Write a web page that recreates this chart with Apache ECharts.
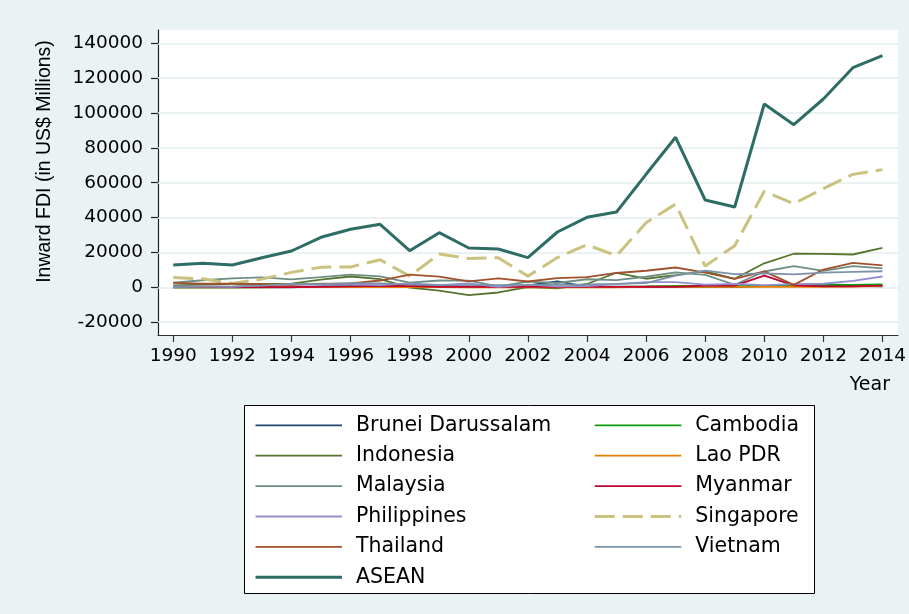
<!DOCTYPE html>
<html>
<head>
<meta charset="utf-8">
<title>Inward FDI, ASEAN 1990-2014</title>
<script src="https://cdn.jsdelivr.net/npm/echarts@6/dist/echarts.min.js"></script>
<style>
  html, body { margin: 0; padding: 0; background: #eaf2f3; }
  #chart { width: 909px; height: 614px; }
</style>
</head>
<body>
<div id="chart"></div>
<script>
// Inward FDI flows, US$ millions
const years = [1990, 1991, 1992, 1993, 1994, 1995, 1996, 1997, 1998, 1999, 2000, 2001, 2002,
               2003, 2004, 2005, 2006, 2007, 2008, 2009, 2010, 2011, 2012, 2013, 2014];
const brunei      = [3, 1, 4, 14, 6, 583, 654, 702, 573, 748, 550, 526, 1035, 3375, 334, 175, 88, 257, 222, 326, 625, 1208, 865, 776, 568];
const cambodia    = [0, 0, 33, 54, 69, 151, 294, 168, 243, 232, 149, 149, 145, 84, 131, 381, 483, 867, 815, 539, 783, 892, 1557, 1345, 1730];
const indonesia   = [1093, 1482, 1777, 2004, 2109, 4346, 6194, 4678, -241, -1866, -4550, -2978, 145, -597, 1896, 8336, 4914, 6928, 9318, 4877, 13771, 19241, 19138, 18817, 22580];
const lao         = [6, 8, 9, 30, 59, 95, 160, 86, 45, 52, 34, 24, 5, 19, 17, 28, 187, 324, 228, 190, 279, 301, 294, 427, 721];
const malaysia    = [2611, 4043, 5138, 5741, 4581, 5816, 7296, 6323, 2714, 3895, 3788, 554, 3203, 2473, 4624, 4065, 6060, 8595, 7172, 1453, 9060, 12198, 9400, 12115, 10875];
const myanmar     = [225, 238, 172, 149, 91, 318, 581, 879, 684, 304, 208, 192, 191, 291, 251, 236, 428, 258, 976, 963, 6669, 1118, 497, 584, 946];
const philippines = [530, 544, 228, 1238, 1591, 1478, 1517, 1222, 2287, 1247, 2240, 195, 1542, 491, 688, 1854, 2921, 2916, 1544, 1963, 1298, 1852, 2033, 3664, 6201];
const singapore   = [5575, 4887, 2204, 4686, 8550, 11535, 11650, 15800, 6389, 19060, 16484, 17000, 6402, 17051, 24390, 18090, 37000, 47733, 12200, 23821, 55076, 48002, 56659, 64793, 67523];
const thailand    = [2575, 2049, 2151, 1807, 1366, 2068, 2271, 3894, 7315, 6103, 3366, 5067, 3335, 5235, 5862, 8216, 9501, 11359, 8455, 4854, 9147, 1370, 10200, 14000, 12600];
const vietnam     = [180, 375, 474, 926, 1944, 1780, 2395, 2220, 1671, 1412, 1298, 1300, 1200, 1450, 1610, 1954, 2400, 6700, 9579, 7600, 8000, 7430, 8368, 8900, 9200];
const asean       = [12800, 13770, 12800, 17000, 20830, 28690, 33280, 36150, 21000, 31330, 22550, 21980, 17000, 31730, 40160, 43200, 64830, 86060, 50090, 46070, 105170, 93290, 108040, 126000, 132900];

const xTicks = [1990, 1992, 1994, 1996, 1998, 2000, 2002, 2004, 2006, 2008, 2010, 2012, 2014];
const yTicks = [-20000, 0, 20000, 40000, 60000, 80000, 100000, 120000, 140000];

const FONT = '"DejaVu Sans", Verdana, sans-serif';
const TITLE_FONT = '"Liberation Sans", Arial, Helvetica, sans-serif';

const seriesDefs = [
  { name: 'Brunei Darussalam', data: brunei,      color: '#1a476f', width: 1.8 },
  { name: 'Cambodia',          data: cambodia,    color: '#0d9a0d', width: 1.8 },
  { name: 'Indonesia',         data: indonesia,   color: '#55752f', width: 1.8 },
  { name: 'Lao PDR',           data: lao,         color: '#e37e00', width: 1.8 },
  { name: 'Malaysia',          data: malaysia,    color: '#6e8e84', width: 1.8 },
  { name: 'Myanmar',           data: myanmar,     color: '#c10534', width: 1.8 },
  { name: 'Philippines',       data: philippines, color: '#938dd2', width: 1.8 },
  { name: 'Singapore',         data: singapore,   color: '#cac27e', width: 3, dash: [20, 8] },
  { name: 'Thailand',          data: thailand,    color: '#a0522d', width: 1.8 },
  { name: 'Vietnam',           data: vietnam,     color: '#7b92a8', width: 1.8 },
  { name: 'ASEAN',             data: asean,       color: '#2d6d66', width: 3 }
];

const series = seriesDefs.map((s, i) => {
  const out = {
    name: s.name,
    type: 'line',
    data: years.map((y, k) => [y, s.data[k]]),
    symbol: 'none',
    smooth: false,
    color: s.color,
    lineStyle: { color: s.color, width: s.width, type: s.dash ? s.dash : 'solid' },
    emphasis: { disabled: true },
    z: 3
  };
  if (i === 0) {
    // horizontal grid lines at each labelled y value, kept beneath the data
    out.markLine = {
      silent: true,
      symbol: 'none',
      z: 1,
      label: { show: false },
      lineStyle: { color: '#e3ecee', width: 1.6, type: 'solid' },
      emphasis: { disabled: true },
      data: yTicks.map(v => ({ yAxis: v }))
    };
  }
  return out;
});

const legendCommon = {
  orient: 'vertical',
  padding: 0,
  itemWidth: 86.5,
  itemHeight: 20,
  itemGap: 9.4,
  selectedMode: false,
  itemStyle: { opacity: 0 },
  lineStyle: { width: 'inherit' },
  textStyle: { fontFamily: FONT, fontSize: 20.5, color: '#000', lineHeight: 20, padding: [0, 0, 0, 9] }
};

const option = {
  animation: false,
  backgroundColor: '#eaf2f3',
  grid: {
    left: 158, right: 9, top: 30, bottom: 279,
    show: true, backgroundColor: '#ffffff', borderWidth: 0
  },
  xAxis: {
    type: 'value',
    min: 1989.484,
    max: 2014.527,
    axisLine: { show: true, onZero: false, lineStyle: { color: '#333', width: 1.2 } },
    axisTick: { show: true, length: 7, customValues: xTicks, lineStyle: { color: '#333', width: 1.2 } },
    axisLabel: {
      customValues: xTicks, margin: 12, formatter: v => String(v),
      fontFamily: FONT, fontSize: 18.5, color: '#000'
    },
    splitLine: { show: false }
  },
  yAxis: {
    type: 'value',
    min: -27370,
    max: 147630,
    axisLine: { show: true, onZero: false, lineStyle: { color: '#222', width: 1.2 } },
    axisTick: { show: true, length: 7, customValues: yTicks, lineStyle: { color: '#222', width: 1.2 } },
    axisLabel: {
      customValues: yTicks, margin: 15, formatter: v => String(v),
      fontFamily: FONT, fontSize: 18.5, color: '#000'
    },
    splitLine: { show: false }
  },
  legend: [
    Object.assign({}, legendCommon, {
      left: 254, top: 414.8,
      data: ['Brunei Darussalam', 'Indonesia', 'Malaysia', 'Philippines', 'Thailand', 'ASEAN']
    }),
    Object.assign({}, legendCommon, {
      left: 593.3, top: 414.8,
      data: ['Cambodia', 'Lao PDR', 'Myanmar', 'Singapore', 'Vietnam']
    })
  ],
  graphic: [
    {
      type: 'rect', z: 0, silent: true,
      shape: { x: 244.5, y: 405.5, width: 570, height: 188 },
      style: { fill: '#ffffff', stroke: '#000', lineWidth: 1 }
    },
    {
      type: 'text', silent: true,
      x: 45, y: 161.5, rotation: Math.PI / 2,
      style: {
        text: 'Inward FDI (in US$ Millions)',
        fontFamily: TITLE_FONT, fontSize: 19.5, fill: '#000',
        align: 'center', verticalAlign: 'middle'
      }
    },
    {
      type: 'text', silent: true,
      x: 890, y: 385,
      style: {
        text: 'Year',
        fontFamily: FONT, fontSize: 19, fill: '#000',
        align: 'right', verticalAlign: 'middle'
      }
    }
  ],
  series: series
};

const chart = echarts.init(document.getElementById('chart'), null, { renderer: 'canvas' });
chart.setOption(option);
</script>
</body>
</html>
